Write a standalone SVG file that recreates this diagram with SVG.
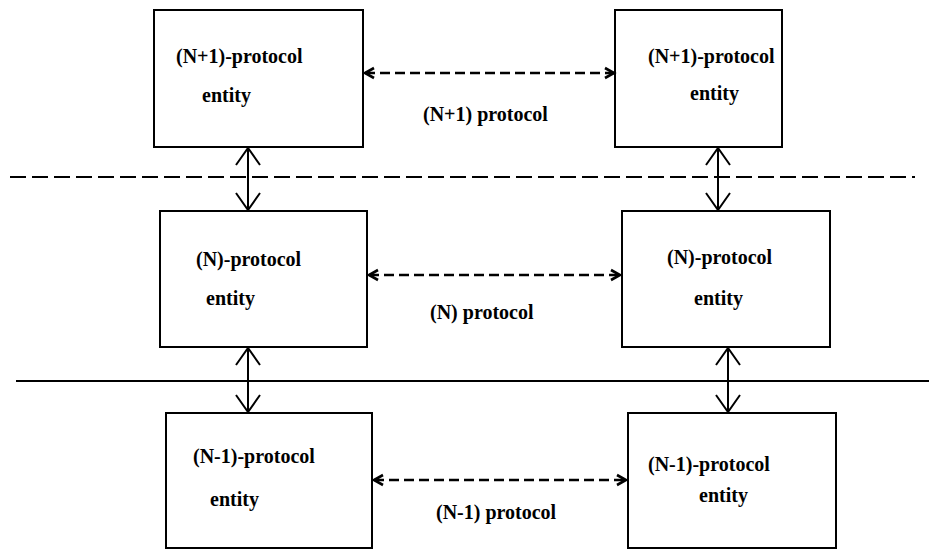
<svg xmlns="http://www.w3.org/2000/svg" width="929" height="550" viewBox="0 0 929 550">
  <style>
    .box { fill: #fff; stroke: #000; stroke-width: 2; }
    .lbl { font-family: "Liberation Serif", "Times New Roman", serif; font-weight: bold; font-size: 20px; fill: #000; }
    .vert { stroke: #000; stroke-width: 2; fill: none; marker-start: url(#bigV); marker-end: url(#bigV); }
    .peer { stroke: #000; stroke-width: 2.6; fill: none; stroke-dasharray: 10 5; marker-start: url(#smallV); marker-end: url(#smallV); }
    .sep-dash { stroke: #000; stroke-width: 2; stroke-dasharray: 16 6; fill: none; }
    .sep-solid { stroke: #000; stroke-width: 2.2; fill: none; }
  </style>
  <defs>
    <marker id="bigV" markerUnits="userSpaceOnUse" orient="auto-start-reverse" overflow="visible" markerWidth="1" markerHeight="1" refX="0" refY="0">
      <path d="M -17,-12 L 0,0 L -17,12" fill="none" stroke="#000" stroke-width="2" stroke-dasharray="none"/>
    </marker>
    <marker id="smallV" markerUnits="userSpaceOnUse" orient="auto-start-reverse" overflow="visible" markerWidth="1" markerHeight="1" refX="0" refY="0">
      <path d="M -9,-5 L 0,0 L -9,5" fill="none" stroke="#000" stroke-width="2.6" stroke-dasharray="none"/>
    </marker>
  </defs>

  <!-- layer boundaries -->
  <g id="boundaries">
    <line class="sep-dash" x1="10" y1="177" x2="915" y2="177"/>
    <line class="sep-solid" x1="16" y1="381" x2="929" y2="381"/>
  </g>

  <!-- (N+1) layer -->
  <g id="n1-left">
    <rect class="box" x="154" y="10" width="209" height="137"/>
    <text class="lbl" x="176" y="63">(N+1)-protocol</text>
    <text class="lbl" x="202" y="102">entity</text>
  </g>
  <g id="n1-right">
    <rect class="box" x="615" y="10" width="167" height="137"/>
    <text class="lbl" x="648" y="63">(N+1)-protocol</text>
    <text class="lbl" x="690" y="100">entity</text>
  </g>

  <!-- (N) layer -->
  <g id="n-left">
    <rect class="box" x="160" y="211" width="207" height="136"/>
    <text class="lbl" x="196" y="266">(N)-protocol</text>
    <text class="lbl" x="206" y="305">entity</text>
  </g>
  <g id="n-right">
    <rect class="box" x="622" y="211" width="208" height="136"/>
    <text class="lbl" x="667" y="264">(N)-protocol</text>
    <text class="lbl" x="694" y="305">entity</text>
  </g>

  <!-- (N-1) layer -->
  <g id="nm1-left">
    <rect class="box" x="166" y="413" width="206" height="135"/>
    <text class="lbl" x="193" y="463">(N-1)-protocol</text>
    <text class="lbl" x="210" y="506">entity</text>
  </g>
  <g id="nm1-right">
    <rect class="box" x="628" y="413" width="208" height="135"/>
    <text class="lbl" x="648" y="471">(N-1)-protocol</text>
    <text class="lbl" x="699" y="502">entity</text>
  </g>

  <!-- connectors -->
  <g id="connectors">
    <line class="vert" x1="248" y1="148" x2="248" y2="210"/>
    <line class="vert" x1="718" y1="148" x2="718" y2="210"/>
    <line class="vert" x1="248" y1="348" x2="248" y2="412"/>
    <line class="vert" x1="728" y1="348" x2="728" y2="412"/>
    <line class="peer" x1="365" y1="73" x2="614" y2="73"/>
    <line class="peer" x1="369" y1="275" x2="620" y2="275"/>
    <line class="peer" x1="374" y1="480" x2="626" y2="480"/>
  </g>

  <!-- protocol labels -->
  <g id="peer-labels">
    <text class="lbl" x="423" y="121">(N+1) protocol</text>
    <text class="lbl" x="430" y="319">(N) protocol</text>
    <text class="lbl" x="436" y="519">(N-1) protocol</text>
  </g>
</svg>
